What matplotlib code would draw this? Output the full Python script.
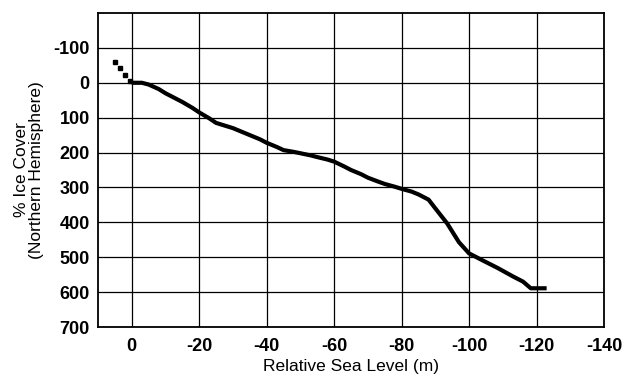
import matplotlib.pyplot as plt
import numpy as np

sea_level = [0, -3, -5, -8, -10, -13, -15, -18, -20, -23, -25, -28, -30, -33, -35, -38, -40,
             -43, -45, -48, -50, -53, -55, -58, -60, -63, -65, -68, -70, -73, -75, -78, -80,
             -83, -85, -88, -90, -93.5, -97, -100, -104, -108.5, -113, -116, -118.3, -123]
ice_cover = [0, 0, 5, 18, 30, 45, 55, 72, 85, 102, 115, 124, 130, 142, 150, 162, 172,
             184, 193, 198, 202, 208, 213, 220, 226, 240, 250, 262, 272, 283, 290, 298, 304,
             312, 320, 335, 360, 403, 457, 489, 509, 531, 555, 570, 589, 589]

dotted_x = [4.9, 3.4, 1.9, 0.4]
dotted_y = [-60, -42, -22, -4]

plt.rcParams['font.family'] = ['Liberation Sans', 'DejaVu Sans']
plt.rcParams['axes.unicode_minus'] = False

fig = plt.figure(figsize=(6.24, 3.81), dpi=100)
ax = fig.add_axes([98 / 624, 1 - 327 / 381, 506 / 624, 314 / 381])

ax.plot(sea_level, ice_cover, color='black', linewidth=3, solid_capstyle='butt', zorder=3)
ax.plot(dotted_x, dotted_y, linestyle='none', marker='s', markersize=3.2, color='black', zorder=3)

ax.set_xlim(10, -140)
ax.set_ylim(700, -200)
ax.set_xticks(np.arange(0, -141, -20))
ax.set_yticks(np.arange(-100, 701, 100))
ax.grid(True, color='black', linewidth=0.9)
ax.tick_params(length=0, labelsize=13, pad=6)
ax.tick_params(axis='x', pad=8)
for lbl in ax.get_xticklabels() + ax.get_yticklabels():
    lbl.set_fontweight('bold')
for s in ax.spines.values():
    s.set_linewidth(1.3)

ax.set_xlabel('Relative Sea Level (m)', fontsize=12.5, labelpad=3)
ax.set_ylabel('% Ice Cover\n(Northern Hemisphere)', fontsize=12.5, labelpad=7, linespacing=1.0)

fig.savefig('out.png', dpi=100)
